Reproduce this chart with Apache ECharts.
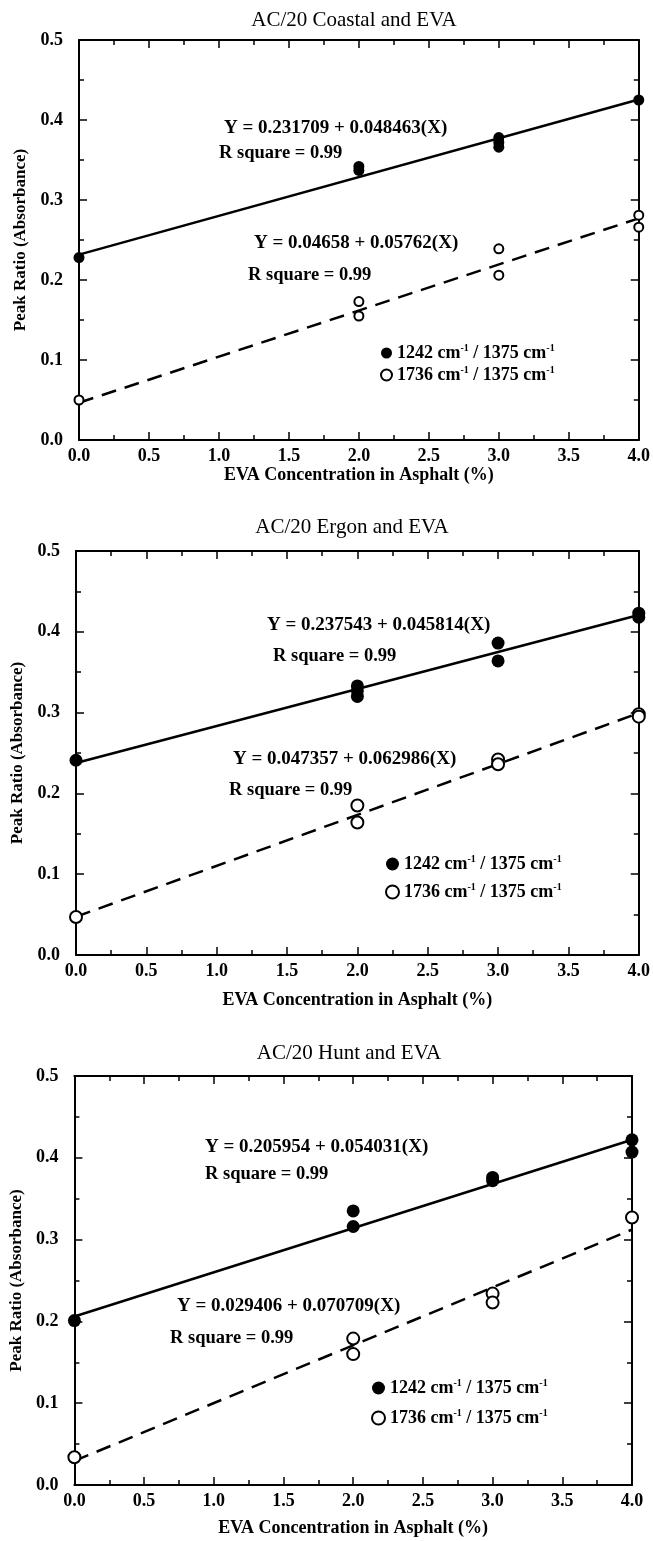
<!DOCTYPE html>
<html>
<head>
<meta charset="utf-8">
<script src="https://cdn.jsdelivr.net/npm/echarts@6/dist/echarts.min.js"></script>
<style>
  html, body { margin: 0; padding: 0; background: #fff; }
  #main { width: 653px; height: 1541px; }
</style>
</head>
<body>
<div id="main"></div>
<script>
// panel titles and series names
var titles = ['AC/20 Coastal and EVA', 'AC/20 Ergon and EVA', 'AC/20 Hunt and EVA']
var seriesNames = ['1242 cm-1 / 1375 cm-1', '1736 cm-1 / 1375 cm-1']
var xTitle = 'EVA Concentration in Asphalt (%)'
var yTitle = 'Peak Ratio (Absorbance)'

// AC/20 Coastal
var coastalX1 = [0, 2, 2, 3, 3, 3, 4]
var coastalY1 = [0.228, 0.342, 0.337, 0.378, 0.372, 0.366, 0.425]
var coastalX2 = [0, 2, 2, 3, 3, 4, 4]
var coastalY2 = [0.050, 0.173, 0.155, 0.239, 0.206, 0.281, 0.266]

// AC/20 Ergon
var ergonX1 = [0, 2, 2, 2, 3, 3, 4, 4]
var ergonY1 = [0.241, 0.333, 0.327, 0.320, 0.386, 0.364, 0.423, 0.418]
var ergonX2 = [0, 2, 2, 3, 3, 4, 4]
var ergonY2 = [0.047, 0.185, 0.164, 0.242, 0.236, 0.298, 0.295]

// AC/20 Hunt
var huntX1 = [0, 2, 2, 3, 3, 4, 4]
var huntY1 = [0.201, 0.335, 0.316, 0.376, 0.372, 0.422, 0.407]
var huntX2 = [0, 2, 2, 3, 3, 4]
var huntY2 = [0.034, 0.179, 0.160, 0.234, 0.223, 0.327]

// regression lines printed on the chart
var fitIntercept1 = ['0.231709', '0.237543', '0.205954']
var fitSlope1 = ['0.048463', '0.045814', '0.054031']
var fitIntercept2 = ['0.04658', '0.047357', '0.029406']
var fitSlope2 = ['0.05762', '0.062986', '0.070709']
var rSquare = ['0.99', '0.99', '0.99']
var fitRange = [0, 4]

var xTicks = [0, 4, 0.5]   // min, max, interval
var yTicks = [0, 0.5, 0.1]

var pointsX1 = [coastalX1, ergonX1, huntX1]
var pointsY1 = [coastalY1, ergonY1, huntY1]
var pointsX2 = [coastalX2, ergonX2, huntX2]
var pointsY2 = [coastalY2, ergonY2, huntY2]

// layout (pixels)
var FONT = '"Liberation Serif", "DejaVu Serif", serif'
var grids = [
  { left: 79, top: 40, width: 560, height: 400 },
  { left: 76, top: 551, width: 563, height: 404 },
  { left: 72, top: 1076, width: 560, height: 409 }
]
var titlePos = [[354, 20], [352, 527], [349, 1053]]
var eq1Pos = [[224, 128], [267, 625], [205, 1147]]
var rs1Pos = [[219, 153], [273, 656], [205, 1174]]
var eq2Pos = [[254, 243], [233, 759], [177, 1306]]
var rs2Pos = [[248, 275], [229, 790], [170, 1338]]
var legendPos = [[380, 343], [385, 854], [371, 1378]]
var legendGap = [2, 8, 10]
var xNameGap = [24, 36, 34]

function zip (xs, ys) {
  var out = []
  for (var i = 0; i < xs.length; i++) out.push([xs[i], ys[i]])
  return out
}

function fitLine (a, b) {
  a = parseFloat(a)
  b = parseFloat(b)
  return fitRange.map(function (x) { return [x, a + b * x] })
}

var xAxes = []
var yAxes = []
var series = []
var graphics = []
var legends = []

function frameAxis (extra) {
  return Object.assign({
    type: 'value',
    axisLine: { onZero: false, lineStyle: { color: '#000', width: 2 } },
    axisTick: { inside: true, length: 8, lineStyle: { color: '#000', width: 1.5 } },
    minorTick: { show: true, splitNumber: 2, length: 5, lineStyle: { color: '#000', width: 1.5 } },
    splitLine: { show: false }
  }, extra)
}

for (var i = 0; i < 3; i++) {
  // bottom and top x axes
  xAxes.push(frameAxis({
    gridIndex: i, position: 'bottom',
    min: xTicks[0], max: xTicks[1], interval: xTicks[2],
    name: xTitle, nameLocation: 'middle', nameGap: xNameGap[i],
    nameTextStyle: { fontFamily: FONT, fontWeight: 'bold', fontSize: 18, color: '#000' },
    axisLabel: {
      margin: 7, fontFamily: FONT, fontWeight: 'bold', fontSize: 18, color: '#000',
      formatter: function (v) { return v.toFixed(1) }
    }
  }))
  xAxes.push(frameAxis({
    gridIndex: i, position: 'top',
    min: xTicks[0], max: xTicks[1], interval: xTicks[2],
    axisLabel: { show: false }
  }))
  // left and right y axes
  yAxes.push(frameAxis({
    gridIndex: i, position: 'left',
    min: yTicks[0], max: yTicks[1], interval: yTicks[2],
    name: yTitle, nameLocation: 'middle', nameGap: 48, nameRotate: 90,
    nameTextStyle: { fontFamily: FONT, fontWeight: 'bold', fontSize: 17, color: '#000' },
    axisLabel: {
      margin: 16, fontFamily: FONT, fontWeight: 'bold', fontSize: 18, color: '#000',
      formatter: function (v) { return v.toFixed(1) }
    }
  }))
  yAxes.push(frameAxis({
    gridIndex: i, position: 'right',
    min: yTicks[0], max: yTicks[1], interval: yTicks[2],
    axisLabel: { show: false }
  }))

  var xi = i * 2
  var yi = i * 2
  var big = i === 0 ? 11 : 13
  var small = i === 0 ? 9 : 12

  // fitted lines
  series.push({
    name: 'fit1-' + i, type: 'line', xAxisIndex: xi, yAxisIndex: yi,
    data: fitLine(fitIntercept1[i], fitSlope1[i]),
    showSymbol: false, silent: true, z: 2,
    lineStyle: { color: '#000', width: 2.5 }
  })
  series.push({
    name: 'fit2-' + i, type: 'line', xAxisIndex: xi, yAxisIndex: yi,
    data: fitLine(fitIntercept2[i], fitSlope2[i]),
    showSymbol: false, silent: true, z: 2,
    lineStyle: { color: '#000', width: 2.5, type: [15, 9] }
  })
  // measured points
  series.push({
    name: seriesNames[0], type: 'scatter', xAxisIndex: xi, yAxisIndex: yi,
    data: zip(pointsX1[i], pointsY1[i]),
    symbol: 'circle', symbolSize: big, z: 3,
    itemStyle: { color: '#000', opacity: 1 }
  })
  series.push({
    name: seriesNames[1], type: 'scatter', xAxisIndex: xi, yAxisIndex: yi,
    data: zip(pointsX2[i], pointsY2[i]),
    symbol: 'circle', symbolSize: small, z: 3,
    itemStyle: { color: '#fff', borderColor: '#000', borderWidth: 2, opacity: 1 }
  })

  // panel title and fit equations
  var txt = { fill: '#000', fontFamily: FONT, fontSize: 19, fontWeight: 'bold', textVerticalAlign: 'middle', verticalAlign: 'middle' }
  var txtR = Object.assign({}, txt, { fontSize: 18.5 })
  graphics.push({
    type: 'text', x: titlePos[i][0], y: titlePos[i][1],
    style: { text: titles[i], fill: '#000', fontFamily: FONT, fontSize: 21, textAlign: 'center', align: 'center', textVerticalAlign: 'middle', verticalAlign: 'middle' }
  })
  graphics.push({ type: 'text', x: eq1Pos[i][0], y: eq1Pos[i][1], style: Object.assign({ text: 'Y = ' + fitIntercept1[i] + ' + ' + fitSlope1[i] + '(X)' }, txt) })
  graphics.push({ type: 'text', x: rs1Pos[i][0], y: rs1Pos[i][1], style: Object.assign({ text: 'R square = ' + rSquare[i] }, txtR) })
  graphics.push({ type: 'text', x: eq2Pos[i][0], y: eq2Pos[i][1], style: Object.assign({ text: 'Y = ' + fitIntercept2[i] + ' + ' + fitSlope2[i] + '(X)' }, txt) })
  graphics.push({ type: 'text', x: rs2Pos[i][0], y: rs2Pos[i][1], style: Object.assign({ text: 'R square = ' + rSquare[i] }, txtR) })

  legends.push({
    left: legendPos[i][0], top: legendPos[i][1], orient: 'vertical',
    padding: 0, itemGap: legendGap[i], itemWidth: big, itemHeight: big,
    selectedMode: false,
    data: [
      { name: seriesNames[0], icon: 'circle', itemStyle: { color: '#000', opacity: 1 } },
      { name: seriesNames[1], icon: 'circle', itemStyle: { color: '#fff', borderColor: '#000', borderWidth: 2, opacity: 1 } }
    ],
    formatter: function (n) { return n.replace(/cm-1/g, 'cm{sup|-1}') },
    textStyle: {
      fontFamily: FONT, fontWeight: 'bold', fontSize: 18, color: '#000', lineHeight: 20,
      rich: { sup: { fontFamily: FONT, fontWeight: 'bold', fontSize: 10, color: '#000', verticalAlign: 'top', lineHeight: 10 } }
    }
  })
}

var chart = echarts.init(document.getElementById('main'), null, { renderer: 'canvas' })
chart.setOption({
  backgroundColor: '#fff',
  animation: false,
  grid: grids,
  xAxis: xAxes,
  yAxis: yAxes,
  legend: legends,
  series: series,
  graphic: graphics
})
</script>
</body>
</html>
